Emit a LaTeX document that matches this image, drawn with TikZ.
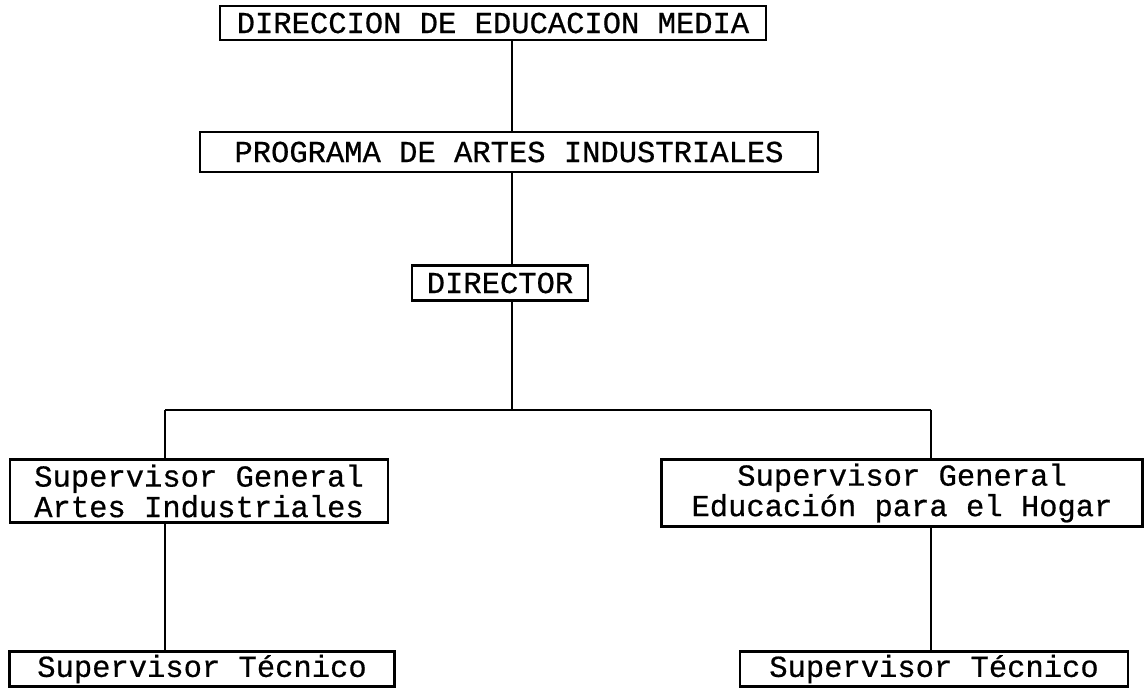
\documentclass[tikz,border=0pt]{standalone}
\usepackage{fontspec}
\setmonofont[FakeBold=0.6]{Liberation Mono}
\usepackage{tikz}

\tikzset{
  box/.style={draw, line width=2.2pt, inner sep=0pt, align=center,
    font=\ttfamily\fontsize{30.5}{30.5}\selectfont},
  link/.style={line width=2.4pt}
}

\begin{document}
\begin{tikzpicture}[x=1pt, y=-1pt]
    \useasboundingbox (0, 0) rectangle (1147, 688);
    % top chain
    \node [box, minimum width=546, minimum height=34] (dem)  at (493, 23)  {DIRECCION DE EDUCACION MEDIA};
    \node [box, minimum width=618, minimum height=40] (pai)  at (509, 152) {PROGRAMA DE ARTES INDUSTRIALES};
    \node [box, minimum width=176, minimum height=35] (dir)  at (500, 283) {DIRECTOR};
    \coordinate (mx) at (512, 0);
    \draw [link]     (dem.south -| mx) -- (pai.north -| mx);
    \draw [link]     (pai.south -| mx) -- (dir.north -| mx);
    % supervisores generales
    \node [box, minimum width=378, minimum height=63] (sgai) at (199, 491) {Supervisor General\\Artes Industriales};
    \node [box, minimum width=481, minimum height=67] (sgeh) at (902, 493) {Supervisor General\\Educación para el Hogar};
    \coordinate (bar) at (512, 410);
    \coordinate (lx)  at (165, 410);
    \coordinate (rx)  at (931, 410);
    \draw [link]     (dir.south -| mx) -- (bar);
    \draw [link]     (lx) -- (rx);
    \draw [link]     (lx) -- (sgai.north -| lx);
    \draw [link]     (rx) -- (sgeh.north -| rx);
    % supervisores tecnicos
    \node [box, minimum width=385, minimum height=35] (stl)  at (202, 669) {Supervisor Técnico};
    \node [box, minimum width=388, minimum height=35] (str)  at (934, 669) {Supervisor Técnico};
    \draw [link]     (sgai.south -| lx) -- (stl.north -| lx);
    \draw [link]     (sgeh.south -| rx) -- (str.north -| rx);
\end{tikzpicture}
\end{document}
